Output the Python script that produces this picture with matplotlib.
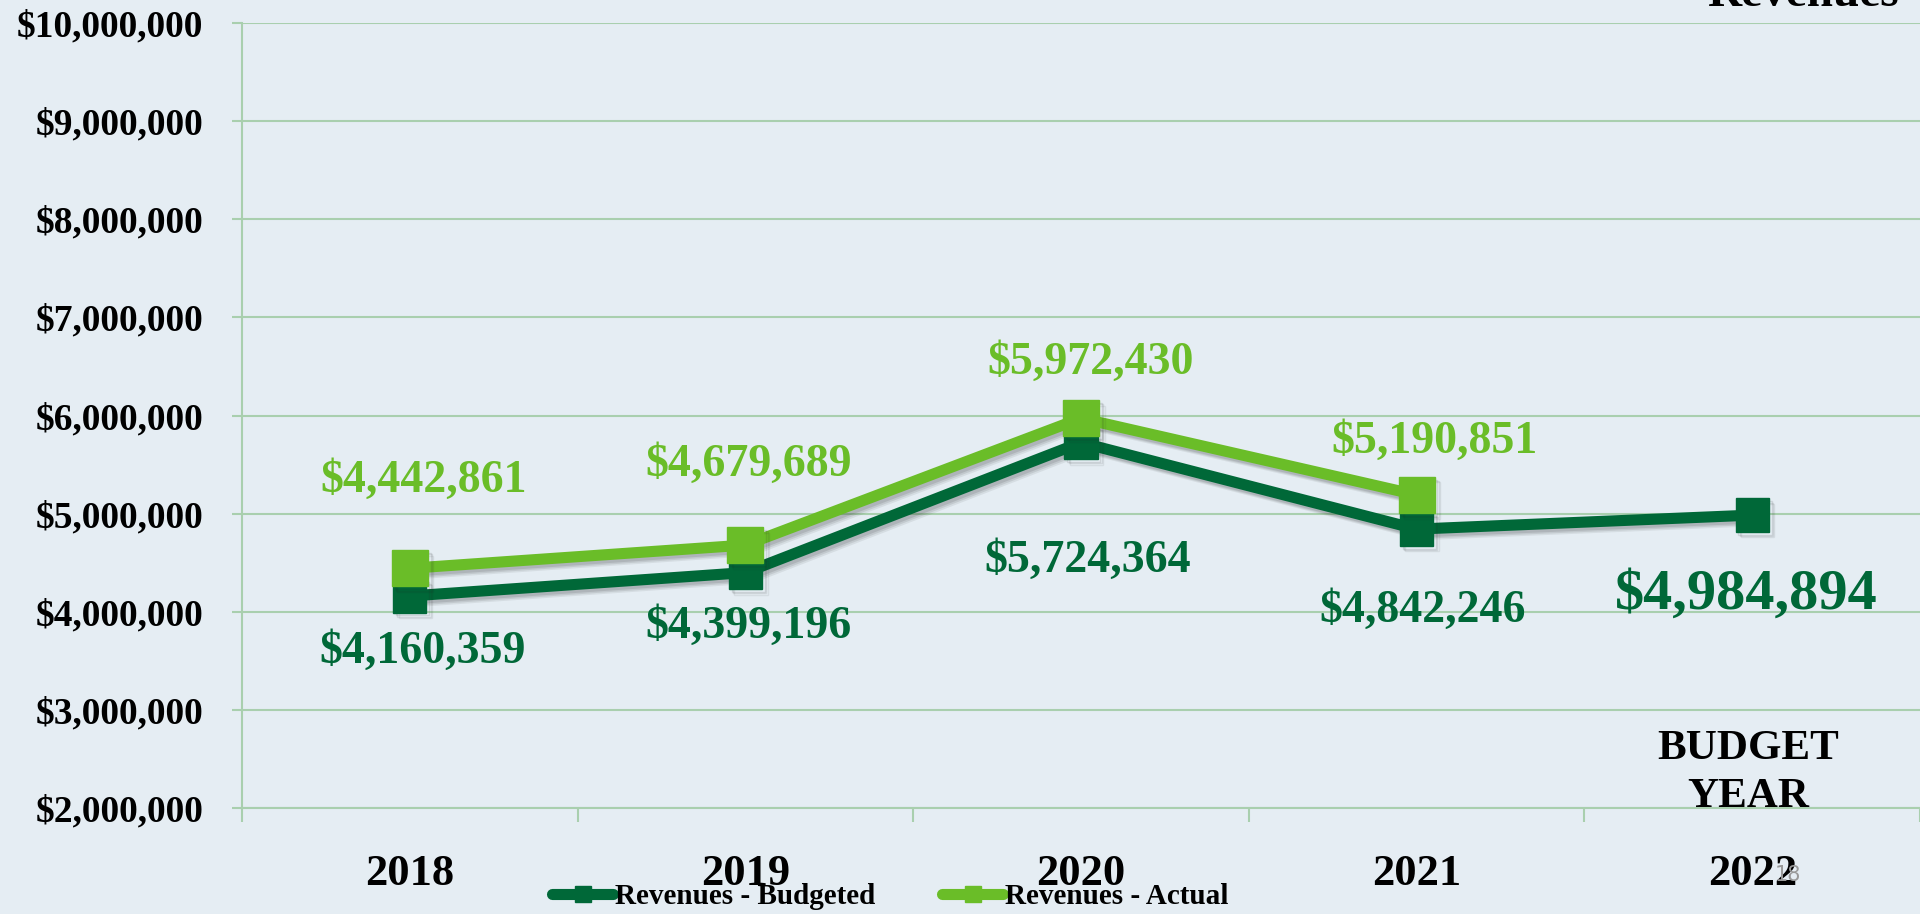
import matplotlib
matplotlib.use("Agg")
import matplotlib.pyplot as plt
import matplotlib.patheffects as pe
from matplotlib.lines import Line2D
from matplotlib.ticker import FuncFormatter, FixedLocator

years = ["2018", "2019", "2020", "2021", "2022"]
budgeted = [4160359, 4399196, 5724364, 4842246, 4984894]
actual = [4442861, 4679689, 5972430, 5190851]

bg = "#E5EDF3"
grid_col = "#A9CFAE"
dark = "#006838"
light = "#6ABD28"

plt.rcParams["font.family"] = ["Liberation Serif", "DejaVu Serif"]
plt.rcParams["font.weight"] = "bold"

fig = plt.figure(figsize=(19.2, 9.14), dpi=100, facecolor=bg)
ax = fig.add_axes([242 / 1920, 1 - 808 / 914, 1 - 242 / 1920, (808 - 23) / 914])
ax.set_facecolor(bg)

x = list(range(len(years)))
# soft drop shadow
shadow = [
    pe.SimpleLineShadow(offset=(4, -4), alpha=0.08, shadow_color="#222222"),
    pe.SimpleLineShadow(offset=(3, -3), alpha=0.1, shadow_color="#222222"),
    pe.SimpleLineShadow(offset=(2, -2), alpha=0.12, shadow_color="#222222"),
    pe.Normal(),
]

ax.plot(x, budgeted, color=dark, lw=8, marker="s", ms=24, zorder=3, path_effects=shadow)
ax.plot(x[:len(actual)], actual, color=light, lw=8, marker="s", ms=26, zorder=4, path_effects=shadow)

ax.set_xlim(-0.5, len(years) - 0.5)
ax.set_ylim(2000000, 10000000)
ax.yaxis.set_major_locator(FixedLocator(range(2000000, 10000001, 1000000)))
ax.yaxis.set_major_formatter(FuncFormatter(lambda v, p: "${:,.0f}".format(v)))
ax.grid(axis="y", color=grid_col, lw=1.5)
ax.set_axisbelow(True)

ax.set_xticks(x)
ax.set_xticklabels(years)
ax.set_xticks([i - 0.5 for i in range(len(years) + 1)], minor=True)
ax.tick_params(axis="x", which="major", length=0, pad=33, labelsize=32)
ax.tick_params(axis="x", which="minor", length=10, color=grid_col, width=1.5)
ax.tick_params(axis="y", length=7, color=grid_col, width=1.5, pad=21, labelsize=27)

for s in ["top", "right"]:
    ax.spines[s].set_visible(False)
ax.spines["left"].set_color(grid_col)
ax.spines["left"].set_linewidth(1.5)
ax.spines["bottom"].set_color(grid_col)
ax.spines["bottom"].set_linewidth(1.5)

# label offsets in points
act_off = [(10, 63), (2, 58), (7, 40), (13, 38)]
bud_off = [(9, -40), (2, -39), (5, -85), (4, -59), (-4, -57)]

for i, v in enumerate(actual):
    ax.annotate("${:,}".format(v), (x[i], v), xytext=act_off[i], textcoords="offset points",
                ha="center", va="center", color=light, fontsize=33, fontweight="bold")
for i, v in enumerate(budgeted):
    size = 42 if i == len(budgeted) - 1 else 33
    ax.annotate("${:,}".format(v), (x[i], v), xytext=bud_off[i], textcoords="offset points",
                ha="center", va="center", color=dark, fontsize=size, fontweight="bold")

fig.text(1748 / 1920, 1 - 773 / 914, "BUDGET\nYEAR", ha="center", va="center",
         fontsize=31, fontweight="bold", linespacing=1.35)
fig.text(1803 / 1920, 1 - 6 / 914, "Revenues", ha="center", va="baseline",
         fontsize=34, fontweight="bold")
fig.text(1788 / 1920, 1 - 875 / 914, "18", ha="center", va="center", fontsize=15,
         color="#999999", fontweight="normal", family="DejaVu Sans")

handles = [
    Line2D([], [], color=dark, lw=8, marker="s", ms=11.5, solid_capstyle="round"),
    Line2D([], [], color=light, lw=8, marker="s", ms=11.5, solid_capstyle="round"),
]
fig.legend(handles, ["Revenues - Budgeted", "Revenues - Actual"], loc="center",
           bbox_to_anchor=(890 / 1920, 1 - 897 / 914), ncol=2, frameon=False,
           fontsize=21, handlelength=2.1, handletextpad=0.05, columnspacing=2.3,
           borderaxespad=0, borderpad=0)

fig.savefig("out.png", dpi=100, facecolor=bg)
